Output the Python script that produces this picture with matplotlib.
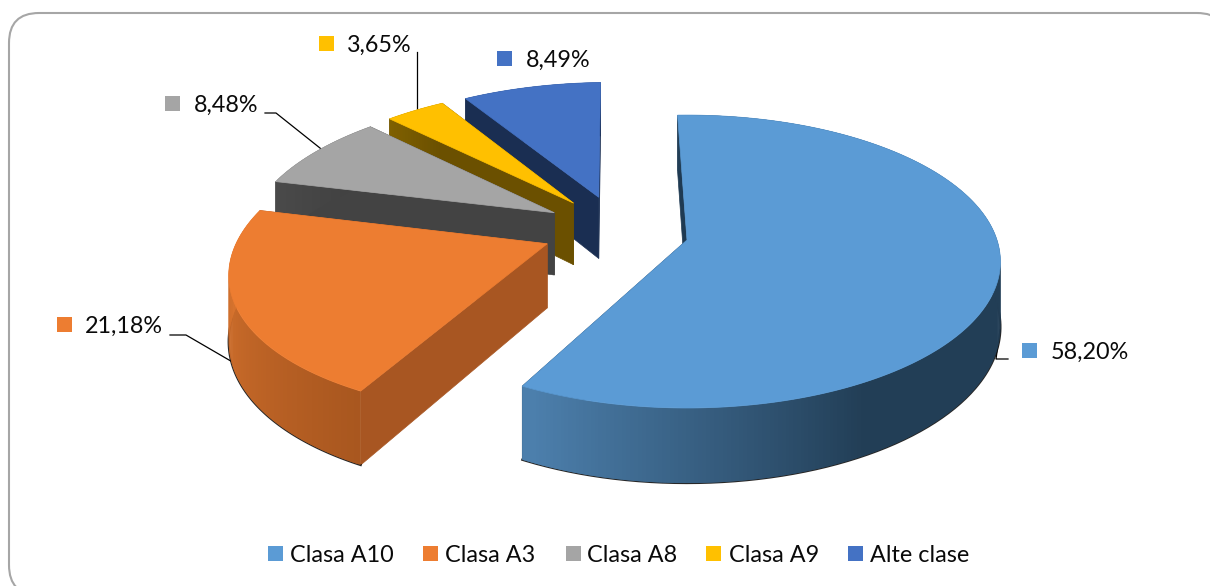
import numpy as np
import matplotlib
matplotlib.use('Agg')
import matplotlib.pyplot as plt
from matplotlib.colors import to_rgb
from matplotlib.patches import FancyBboxPatch, Polygon, Rectangle

plt.rcParams['font.family'] = ['Lato', 'DejaVu Sans']

# data
categories = ['Clasa A10', 'Clasa A3', 'Clasa A8', 'Clasa A9', 'Alte clase']
shares = [58.20, 21.18, 8.48, 3.65, 8.49]
colors = ['#5B9BD5', '#ED7D31', '#A5A5A5', '#FFC000', '#4472C4']

# wall colours: arc wall from / arc wall to / flat cut wall
wall_from = ['#4C7FAC', '#E27A32', '#4A4A4A', '#7F6000', '#1A2E52']
wall_to = ['#223E56', '#A9571F', '#404040', '#6B5000', '#1A2E52']
cut_wall = ['#1F3A52', '#A85622', '#434343', '#6B5000', '#1A2E52']

# perspective model of the tilted disc, in pixels
CX, CY = 687, 240
A, B, K = 310, 143.3, 0.147
DEPTH = 64
EXPLODE = 0.247
EXPLODE_FIRST = 0.230
LIFT = 0.025  # the smaller slices sit a little further back
START = np.radians(-2)


def project(x, y, drop=0.0):
    w = 1 + K * y
    return CX + A * x / w, CY - B * y / w + drop * DEPTH / w


fracs = np.array(shares) / sum(shares)
edges = START + np.concatenate([[0], np.cumsum(fracs)]) * 2 * np.pi
mid0 = (edges[0] + edges[1]) / 2
# everything is measured from the apex of the first slice
ox = -EXPLODE_FIRST * np.sin(mid0)
oy = -EXPLODE_FIRST * np.cos(mid0)

fig = plt.figure(figsize=(12.1, 5.86), dpi=100, facecolor='white')
ax = fig.add_axes([0, 0, 1, 1])
ax.set_xlim(0, 1210)
ax.set_ylim(586, 0)
ax.axis('off')

ax.add_patch(FancyBboxPatch((9, 13), 1218, 582, boxstyle='round,rounding_size=30,pad=0',
                            facecolor='white', edgecolor='#A6A6A6', linewidth=1.5, zorder=0))


def draw_slice(i, z):
    a0, a1 = edges[i], edges[i + 1]
    mid = (a0 + a1) / 2
    e = EXPLODE_FIRST if i == 0 else EXPLODE
    px = ox + e * np.sin(mid)
    py = oy + e * np.cos(mid) + (0 if i == 0 else LIFT)
    t = np.linspace(a0, a1, max(int((a1 - a0) * 90), 8))
    xs = px + np.sin(t)
    ys = py + np.cos(t)

    # flat cut walls
    for ang in (a0, a1):
        ex, ey = px + np.sin(ang), py + np.cos(ang)
        quad = [project(px, py), project(ex, ey), project(ex, ey, 1), project(px, py, 1)]
        ax.add_patch(Polygon(quad, closed=True, facecolor=cut_wall[i], edgecolor=cut_wall[i],
                             linewidth=0.5, zorder=z))

    # dark rim under the walls of the two big slices, front side only
    if i < 2:
        front = np.cos(t) < 0.2
        bx, by = project(xs[front], ys[front], 1)
        ax.plot(bx, by, color='#101010', linewidth=1.6, alpha=0.9, zorder=z + 0.05)

    # arc wall, shaded strip by strip (strips overlap so no seams show)
    c0 = np.array(to_rgb(wall_from[i]))
    c1 = np.array(to_rgb(wall_to[i]))
    n = len(t) - 1
    for j in range(n):
        s = j / max(n - 1, 1)
        if i == 0:
            s = 1 - np.clip((t[j] - np.radians(150)) / np.radians(55), 0, 1)
        elif i == 1:
            s = 1 - s
        col = c0 + (c1 - c0) * s
        k = min(j + 2, n)
        quad = [project(xs[j], ys[j]), project(xs[k], ys[k]),
                project(xs[k], ys[k], 1), project(xs[j], ys[j], 1)]
        ax.add_patch(Polygon(quad, closed=True, facecolor=col, edgecolor='none', zorder=z + 0.1))

    # top face
    tx, ty = project(xs, ys)
    ax0, ay0 = project(px, py)
    top = np.column_stack([np.r_[ax0, tx], np.r_[ay0, ty]])
    ax.add_patch(Polygon(top, closed=True, facecolor=colors[i], edgecolor=colors[i],
                         linewidth=0.5, zorder=z + 0.2))


for z, i in enumerate([4, 3, 2, 1, 0]):
    draw_slice(i, 2 + z)

# data labels: marker corner and text start
label_marker_xy = [(1022, 343), (57, 317), (165, 96), (319, 36), (497, 51)]
label_text_x = [1051, 85, 194, 347, 526]
for i in range(5):
    mx, my = label_marker_xy[i]
    ax.add_patch(Rectangle((mx, my), 15, 15, facecolor=colors[i], edgecolor='none', zorder=9))
    txt = f'{shares[i]:.2f}%'.replace('.', ',')
    ax.text(label_text_x[i], my + 7.5, txt, fontsize=16.8, color='#0A0A0A', ha='left',
            va='center_baseline', zorder=9)

# leader lines, drawn under the pie so they stop at its edge
leaders = [
    ([1000, 996, 1008], [330, 359, 359]),
    ([260, 186, 170], [378, 335, 335]),
    ([330, 276, 265], [156, 113, 113]),
    ([417, 417], [120, 52]),
]
for lx, ly in leaders:
    ax.plot(lx, ly, color='black', linewidth=0.9, zorder=1)

# legend
legend_marker_x = [268, 423, 566, 706, 848]
legend_text_x = [290, 445, 587, 729, 870]
for i in range(5):
    ax.add_patch(Rectangle((legend_marker_x[i], 546), 15, 15, facecolor=colors[i],
                           edgecolor='none', zorder=9))
    ax.text(legend_text_x[i], 553.5, categories[i], fontsize=16.8, color='#0A0A0A', ha='left',
            va='center_baseline', zorder=9)

fig.savefig('out.png', dpi=100, facecolor='white')
